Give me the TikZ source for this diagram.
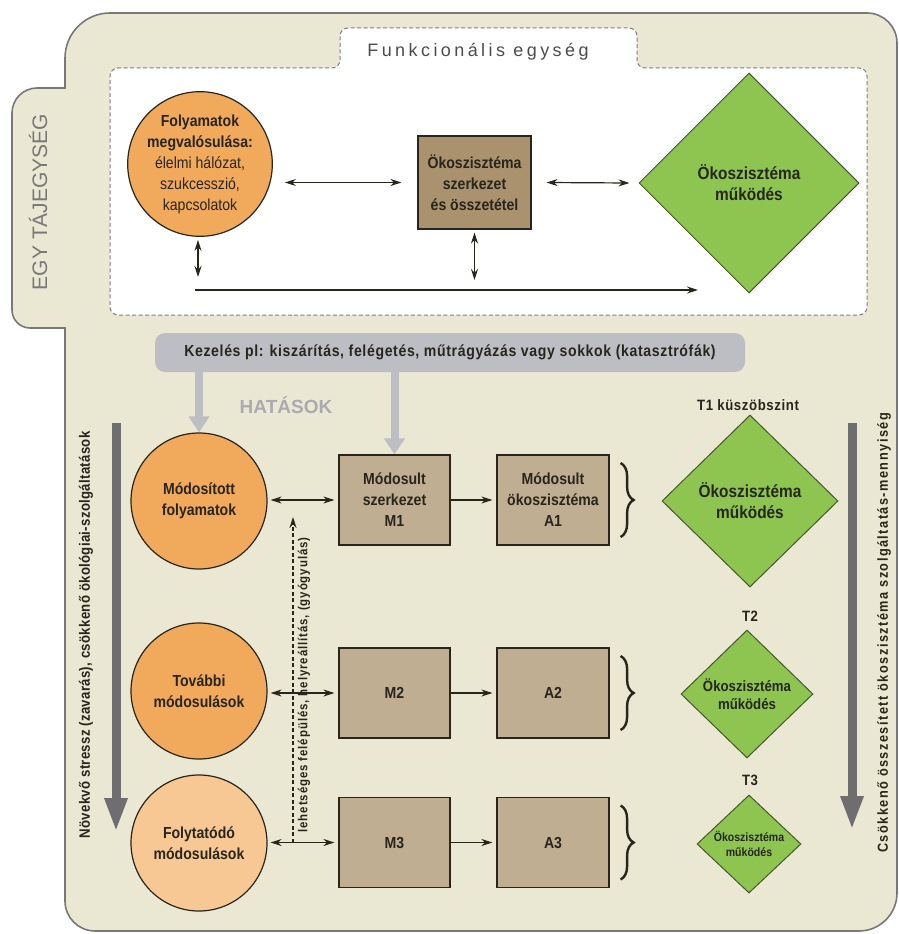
\documentclass[tikz,border=0pt]{standalone}
\usepackage{fontspec}
\setmainfont{Liberation Sans}
\newfontfamily\cond{Liberation Sans}[FakeStretch=0.88]
\newfontfamily\condL{Liberation Sans}[FakeStretch=0.88,LetterSpace=2]
\newfontfamily\condR{Liberation Sans}[FakeStretch=0.88,LetterSpace=10]
\newfontfamily\condD{Liberation Sans}[FakeStretch=0.88,LetterSpace=7]
\newfontfamily\condB{Liberation Sans}[FakeStretch=0.88,LetterSpace=4]
\newfontfamily\condT{Liberation Sans}[FakeStretch=0.88,LetterSpace=4]
\newfontfamily\spaced{Liberation Sans}[LetterSpace=19]
\usetikzlibrary{shapes.geometric,arrows.meta,decorations.pathreplacing}
\definecolor{bg}{RGB}{234,231,211}
\definecolor{frame}{RGB}{120,120,120}
\definecolor{orangeA}{RGB}{241,170,92}
\definecolor{orangeB}{RGB}{247,200,148}
\definecolor{brownA}{RGB}{170,146,110}
\definecolor{brownB}{RGB}{192,174,146}
\definecolor{greenA}{RGB}{141,197,80}
\definecolor{barcol}{RGB}{189,190,196}
\definecolor{darkarr}{RGB}{110,110,112}
\definecolor{ink}{RGB}{40,38,28}
\tikzset{
  circ/.style={circle,draw=ink,line width=1.2pt,inner sep=0pt,align=center,text=ink,
    font=\cond\fontsize{16}{21}\selectfont},
  boxA/.style={rectangle,draw=ink,line width=1.2pt,inner sep=0pt,align=center,text=ink,
    font=\cond\bfseries\fontsize{16}{21}\selectfont},
  dia/.style={diamond,aspect=1,draw=ink!70!greenA,line width=1pt,fill=greenA,inner sep=0pt,
    align=center,text=ink},
  dbl/.style={{Stealth[length=11pt,width=7pt]}-{Stealth[length=11pt,width=7pt]},line width=1.2pt,draw=ink},
  sgl/.style={-{Stealth[length=11pt,width=7pt]},line width=1.2pt,draw=ink},
  garr/.style={-{Triangle[width=20pt,length=16pt]},line width=8pt,draw=barcol},
  darr/.style={-{Triangle[width=21pt,length=34pt]},line width=9pt,draw=darkarr},
  brc/.style={decorate,decoration={brace,amplitude=13pt},line width=2.4pt,draw=ink},
  lbl/.style={text=ink,font=\condT\bfseries\fontsize{15}{18}\selectfont,inner sep=0pt},
}
\begin{document}
\begin{tikzpicture}[x=1pt,y=-1pt]
\useasboundingbox (0,0) rectangle (898,934);
% outer frame with side tab
\draw[fill=bg,draw=frame,line width=1.6pt]
  (65,88) -- (65,58) .. controls (65,33.2) and (85.2,13) .. (110,13)
  -- (867,13) .. controls (883.6,13) and (897,26.4) .. (897,43)
  -- (897,893) .. controls (897,914) and (880,931) .. (859,931)
  -- (95,931) .. controls (78.4,931) and (65,917.6) .. (65,901)
  -- (65,328) -- (30,328) .. controls (20.1,328) and (12,319.9) .. (12,310)
  -- (12,113) .. controls (12,99.2) and (23.2,88) .. (37,88) -- cycle;
\node[rotate=90,text=frame,font=\fontsize{21}{24}\selectfont,inner sep=0pt] (egy) at (38,202) {EGY TÁJEGYSÉG};
% functional unit box
\draw[dash pattern=on 4pt off 2.5pt,draw=gray,fill=white,rounded corners=8pt,line width=1pt]
  (300,315) -- (110,315) -- (110,68) -- (340,68) -- (340,28) -- (637,28) -- (637,68)
  -- (867,68) -- (867,315) -- cycle;
\node[text=black!70,font=\spaced\fontsize{18}{21}\selectfont,inner sep=0pt] (title) at (478,52) {Funkcionális egység};
% top row
\node[circ,fill=orangeA,minimum size=140pt] (c0) at (200,164)
  {\textbf{Folyamatok}\\ \textbf{megvalósulása:}\\ élelmi hálózat,\\ szukcesszió,\\ kapcsolatok};
\node[boxA,fill=brownA,minimum width=113pt,minimum height=93pt] (b0) at (474.5,182.5)
  {Ökoszisztéma\\ szerkezet\\ és összetétel};
\node[dia,minimum width=220pt,minimum height=220pt,font=\cond\bfseries\fontsize{17.5}{21}\selectfont] (d0) at (749,183)
  {Ökoszisztéma\\ működés};
\coordinate (p0) at (c0.east |- b0.west);
\draw[dbl] ([xshift=12pt]p0) -- ([xshift=-16pt]b0.west);
\draw[dbl] ([xshift=15pt]b0.east) -- ([xshift=-9pt]d0.west);
\coordinate (v1) at (198,277);
\coordinate (v2) at (474.5,280);
\draw[dbl] ([yshift=-3pt]c0.south -| v1) -- (v1);
\draw[dbl] ([yshift=-3pt]b0.south) -- (v2);
\coordinate (h1) at (195,290);
\coordinate (h2) at (698,290);
\draw[sgl] (h1) -- (h2);
% management bar
\node[rectangle,rounded corners=10pt,fill=barcol,minimum width=590pt,minimum height=39pt,inner sep=0pt,
  text=ink,font=\condB\bfseries\fontsize{16}{19}\selectfont] (bar) at (450,352.5)
  {Kezelés pl: kiszárítás, felégetés, műtrágyázás vagy sokkok (katasztrófák)};
\node[text=barcol!90!black,font=\bfseries\fontsize{19}{22}\selectfont,inner sep=0pt] (hat) at (286,405) {HATÁSOK};
% lower rows
\node[circ,fill=orangeA,minimum size=136pt] (c1) at (199,501) {\textbf{Módosított}\\ \textbf{folyamatok}};
\node[circ,fill=orangeA,minimum size=136pt] (c2) at (199,691) {\textbf{További}\\ \textbf{módosulások}};
\node[circ,fill=orangeB,minimum size=136pt] (c3) at (199,843) {\textbf{Folytatódó}\\ \textbf{módosulások}};
\node[boxA,fill=brownB,minimum width=111pt,minimum height=90pt] (m1) at (394.5,500) {Módosult\\ szerkezet\\ M1};
\node[boxA,fill=brownB,minimum width=111pt,minimum height=90pt] (m2) at (394.5,693) {M2};
\node[boxA,fill=brownB,minimum width=111pt,minimum height=90pt] (m3) at (394.5,842.5) {M3};
\node[boxA,fill=brownB,minimum width=112pt,minimum height=90pt] (a1) at (553,500) {Módosult\\ ökoszisztéma\\ A1};
\node[boxA,fill=brownB,minimum width=112pt,minimum height=90pt] (a2) at (553,693) {A2};
\node[boxA,fill=brownB,minimum width=112pt,minimum height=90pt] (a3) at (553,842.5) {A3};
\draw[garr] (c1.north |- bar.south) -- (c1.north);
\draw[garr] (m1.north |- bar.south) -- (m1.north);
\coordinate (q1) at (c1.east |- m1.west);
\coordinate (q2) at (c2.east |- m2.west);
\coordinate (q3) at (c3.east |- m3.west);
\draw[dbl] ([xshift=3pt]q1) -- ([xshift=-4pt]m1.west);
\draw[dbl] ([xshift=3pt]q2) -- ([xshift=-4pt]m2.west);
\draw[dbl] ([xshift=3pt]q3) -- ([xshift=-4pt]m3.west);
\draw[sgl] (m1.east) -- ([xshift=-4pt]a1.west);
\draw[sgl] (m2.east) -- ([xshift=-4pt]a2.west);
\draw[sgl] (m3.east) -- ([xshift=-4pt]a3.west);
\coordinate (rb) at (293,842.5);
\coordinate (rt) at (293,517);
\draw[-{Stealth[length=11pt,width=7pt]},dash pattern=on 4pt off 2.5pt,line width=1.1pt,draw=ink] (rb) -- (rt);
\node[rotate=90,text=ink,font=\condD\bfseries\fontsize{13}{15}\selectfont,inner sep=0pt] (rec) at (304,685)
  {lehetséges felépülés, helyreállítás, (gyógyulás)};
% braces
\draw[brc] ([xshift=11pt,yshift=37pt]a1.east) -- ([xshift=11pt,yshift=-37pt]a1.east);
\draw[brc] ([xshift=11pt,yshift=37pt]a2.east) -- ([xshift=11pt,yshift=-37pt]a2.east);
\draw[brc] ([xshift=11pt,yshift=37pt]a3.east) -- ([xshift=11pt,yshift=-37pt]a3.east);
% diamonds
\node[dia,minimum width=176pt,minimum height=172pt,font=\cond\bfseries\fontsize{17.5}{21}\selectfont] (d1) at (750,501) {Ökoszisztéma\\ működés};
\node[dia,minimum width=132pt,minimum height=128pt,font=\cond\bfseries\fontsize{15}{18}\selectfont] (d2) at (747,694) {Ökoszisztéma\\ működés};
\node[dia,minimum width=104pt,minimum height=98pt,font=\cond\bfseries\fontsize{12}{15}\selectfont] (d3) at (749,844) {Ökoszisztéma\\ működés};
\node[lbl] (t1) at (748,405) {T1 küszöbszint};
\node[lbl] (t2) at (750,616) {T2};
\node[lbl] (t3) at (750,780) {T3};
% side arrows and texts
\coordinate (la1) at (116,423);
\coordinate (la2) at (116,832);
\draw[darr] (la1) -- (la2);
\coordinate (ra1) at (852,423);
\coordinate (ra2) at (852,830);
\draw[darr] (ra1) -- (ra2);
\node[rotate=90,text=ink,font=\condL\bfseries\fontsize{15}{17}\selectfont,inner sep=0pt] (lt) at (86,635)
  {Növekvő stressz (zavarás), csökkenő ökológiai-szolgáltatások};
\node[rotate=90,text=ink,font=\condR\bfseries\fontsize{14.5}{17}\selectfont,inner sep=0pt] (rtx) at (884,633)
  {Csökkenő összesített ökoszisztéma szolgáltatás-mennyiség};
\end{tikzpicture}
\end{document}
